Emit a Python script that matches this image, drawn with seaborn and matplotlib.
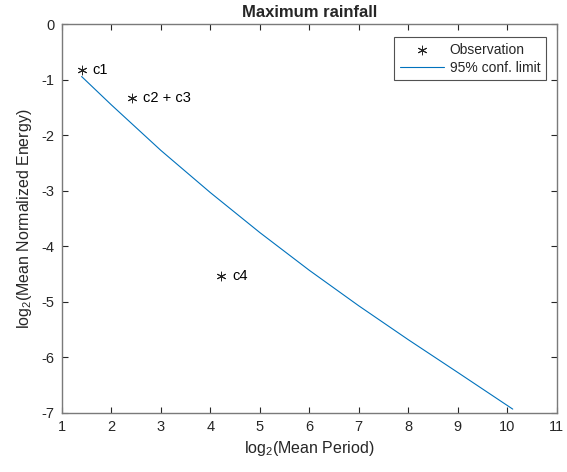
import matplotlib
matplotlib.use("Agg")
import matplotlib.pyplot as plt
import seaborn as sns
import pandas as pd

# Observations
obs_labels = ["c1", "c2 + c3", "c4"]
obs_x = [1.40, 2.41, 4.22]
obs_y = [-0.83, -1.32, -4.53]

# 95% confidence limit curve
conf_x = [1.40, 2.0, 3.0, 4.0, 5.0, 6.0, 7.0, 8.0, 9.0, 10.11]
conf_y = [-0.94, -1.45, -2.27, -3.03, -3.75, -4.43, -5.07, -5.68, -6.27, -6.93]

x_ticks = list(range(1, 12))
y_ticks = list(range(-7, 1))

sns.set_style("white")
plt.rcParams["font.family"] = ["Liberation Sans", "DejaVu Sans"]
plt.rcParams["mathtext.default"] = "regular"
plt.rcParams["axes.unicode_minus"] = False

fig = plt.figure(figsize=(5.67, 4.72), dpi=100)
ax = fig.add_axes([0.109, 0.125, 0.873, 0.8235])

obs_df = pd.DataFrame({"x": obs_x, "y": obs_y, "label": obs_labels})
conf_df = pd.DataFrame({"x": conf_x, "y": conf_y})

sns.scatterplot(data=obs_df, x="x", y="y", ax=ax, marker=(6, 2, 0), s=40,
                color="#262626", linewidth=0.7, label="Observation", zorder=3)
sns.lineplot(data=conf_df, x="x", y="y", ax=ax, color="#0072BD", linewidth=0.8,
             label="95% conf. limit", sort=False, estimator=None)

for lx, ly, lab in zip(obs_x, obs_y, obs_labels):
    ax.annotate(lab, (lx, ly), xytext=(8, 0), textcoords="offset points",
                va="center", ha="left", fontsize=10.5, color="black")

ax.set_xlim(1, 11)
ax.set_ylim(-7, 0)
ax.set_xticks(x_ticks)
ax.set_yticks(y_ticks)
ax.tick_params(direction="in", length=4, width=0.8, colors="#262626",
               labelsize=10.5, top=True, right=True, bottom=True, left=True,
               pad=5)
for sp in ax.spines.values():
    sp.set_visible(True)
    sp.set_color("#7a7a7a")
    sp.set_linewidth(1.0)

ax.set_title("Maximum rainfall", fontsize=12, fontweight="bold", pad=5)
ax.set_xlabel("log$_2$(Mean Period)", fontsize=11.5, labelpad=4)
ax.set_ylabel("log$_2$(Mean Normalized Energy)", fontsize=11.5, labelpad=6)

leg = ax.legend(loc="upper right", bbox_to_anchor=(0.978, 0.967), fontsize=10,
                frameon=True, fancybox=False, edgecolor="#262626",
                borderpad=0.4, handlelength=3.2, labelspacing=0.3,
                handletextpad=0.4, borderaxespad=0)
leg.get_frame().set_linewidth(0.8)

fig.savefig("out.png", dpi=100)
